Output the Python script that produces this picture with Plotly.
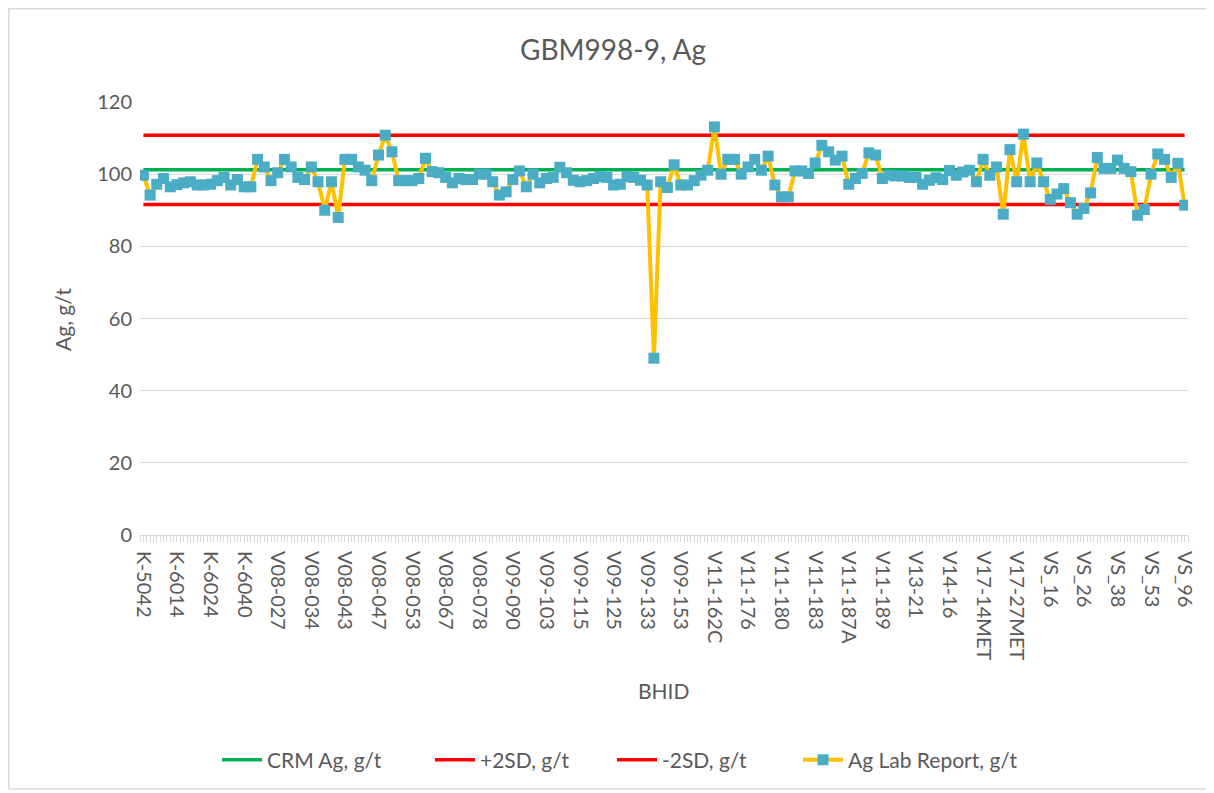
import plotly.graph_objects as go

# ---- data ----
tick_labels = ["K-5042", "K-6014", "K-6024", "K-6040", "V08-027", "V08-034", "V08-043", "V08-047",
               "V08-053", "V08-067", "V08-078", "V09-090", "V09-103", "V09-115", "V09-125", "V09-133",
               "V09-153", "V11-162C", "V11-176", "V11-180", "V11-183", "V11-187A", "V11-189", "V13-21",
               "V14-16", "V17-14MET", "V17-27MET", "VS_16", "VS_26", "VS_38", "VS_53", "VS_96"]
label_step = 5

ag_lab = [99.7, 94.2, 97.2, 98.8, 96.5, 97.1, 97.6, 97.9, 97.0, 97.0,
          97.2, 98.2, 99.1, 97.0, 98.5, 96.5, 96.5, 104.1, 102.0, 98.2,
          100.4, 104.1, 102.0, 99.1, 98.5, 102.0, 97.9, 90.0, 97.9, 88.0,
          104.1, 104.1, 102.0, 101.1, 98.2, 105.3, 110.8, 106.2, 98.2, 98.2,
          98.2, 98.8, 104.4, 100.7, 100.4, 99.1, 97.6, 98.8, 98.5, 98.5,
          100.0, 100.0, 97.9, 94.2, 95.1, 98.5, 100.9, 96.5, 100.0, 97.6,
          98.8, 99.1, 101.9, 100.4, 98.3, 97.9, 98.2, 98.8, 99.3, 99.1,
          97.0, 97.2, 99.3, 99.1, 98.3, 97.0, 49.0, 97.9, 96.3, 102.6,
          97.0, 97.0, 98.2, 99.7, 101.1, 113.1, 100.0, 104.1, 104.1, 100.0,
          102.0, 104.1, 101.1, 105.0, 97.0, 93.7, 93.7, 100.9, 100.9, 100.2,
          103.1, 108.0, 106.2, 103.9, 105.0, 97.2, 98.8, 100.2, 105.9, 105.3,
          98.8, 99.7, 99.5, 99.5, 99.1, 99.1, 97.2, 98.3, 99.0, 98.5,
          101.0, 99.7, 100.6, 101.1, 97.9, 104.1, 99.7, 102.0, 88.9, 106.8,
          97.9, 111.1, 97.9, 103.1, 97.9, 93.0, 94.5, 96.0, 92.1, 88.9,
          90.5, 94.8, 104.6, 101.6, 101.6, 103.9, 101.6, 100.7, 88.6, 90.2,
          100.0, 105.6, 104.1, 99.1, 103.0, 91.4]

crm_value = 101.2
plus_2sd = 110.8
minus_2sd = 91.6

n = len(ag_lab)
x_idx = list(range(n))
tick_positions = [i * label_step for i in range(len(tick_labels))]
crm_line = [crm_value] * n
plus_line = [plus_2sd] * n
minus_line = [minus_2sd] * n

FONT = "Lato, 'Open Sans', sans-serif"
TXT = "#595959"
GRID = "#D9D9D9"

# page body has an 8px margin: the figure origin sits at page (8, 8)
OFF = 8
PL, PT, PW, PH = 140, 102, 1048, 433   # plot area in page pixels


def px_x(page_x):
    return (page_x - PL) / PW


def px_y(page_y):
    return (PT + PH - page_y) / PH


fig = go.Figure()
fig.add_trace(go.Scatter(x=x_idx, y=crm_line, mode="lines", name="CRM Ag, g/t",
                         line=dict(color="#00B050", width=3.5), legendwidth=158))
fig.add_trace(go.Scatter(x=x_idx, y=plus_line, mode="lines", name="+2SD, g/t",
                         line=dict(color="#FF0000", width=3.5), legendwidth=127))
fig.add_trace(go.Scatter(x=x_idx, y=minus_line, mode="lines", name="-2SD, g/t",
                         line=dict(color="#FF0000", width=3.5), legendwidth=131))
fig.add_trace(go.Scatter(x=x_idx, y=ag_lab, mode="lines+markers", name="Ag Lab Report, g/t",
                         line=dict(color="#FFC000", width=4),
                         marker=dict(symbol="square", size=11, color="#4BACC6",
                                     line=dict(width=0))))

fig.update_layout(
    width=1214 - OFF, height=793 - OFF,
    margin=dict(l=PL - OFF, r=1214 - PL - PW, t=PT - OFF, b=793 - PT - PH),
    paper_bgcolor="white", plot_bgcolor="white",
    font=dict(family=FONT, color=TXT, size=20),
    title=dict(text="GBM998-9, Ag", x=(613 - OFF) / (1214 - OFF), xanchor="center",
               y=1 - (50 - OFF) / (793 - OFF), yanchor="middle",
               font=dict(size=28, color=TXT, family=FONT)),
    showlegend=True,
    legend=dict(orientation="h", x=px_x(217), xanchor="left", y=px_y(760), yanchor="middle",
                font=dict(size=21, color=TXT, family=FONT), bgcolor="rgba(0,0,0,0)",
                itemwidth=40, tracegroupgap=0),
    xaxis=dict(range=[-0.5, n - 0.5], tickmode="array", tickvals=tick_positions,
               ticktext=tick_labels, tickangle=90, showgrid=False, zeroline=False,
               showline=True, linecolor=GRID, linewidth=1,
               ticks="outside", ticklen=6, tickcolor=GRID, ticklabelstandoff=5,
               minor=dict(ticks="outside", ticklen=6, tickcolor=GRID, dtick=0.5, tick0=-0.5),
               tickfont=dict(size=20, color=TXT, family=FONT), automargin=False),
    yaxis=dict(range=[0, 120], dtick=20, showgrid=True, gridcolor=GRID, gridwidth=1,
               zeroline=False, showline=False, ticks="", ticklabelstandoff=7,
               tickfont=dict(size=20, color=TXT, family=FONT), automargin=False),
    annotations=[
        dict(text="Ag, g/t", xref="paper", yref="paper", x=px_x(62), y=px_y(320),
             showarrow=False, textangle=-90, font=dict(size=21, color=TXT, family=FONT),
             xanchor="center", yanchor="middle"),
        dict(text="BHID", xref="paper", yref="paper", x=px_x(663), y=px_y(690),
             showarrow=False, font=dict(size=21, color=TXT, family=FONT),
             xanchor="center", yanchor="middle"),
    ],
    shapes=[dict(type="rect", xref="paper", yref="paper",
                 x0=px_x(8.8), x1=px_x(1207), y0=px_y(789), y1=px_y(8.8),
                 line=dict(color=GRID, width=1.5), fillcolor="rgba(0,0,0,0)", layer="below")],
)

fig.write_html("out.html")
